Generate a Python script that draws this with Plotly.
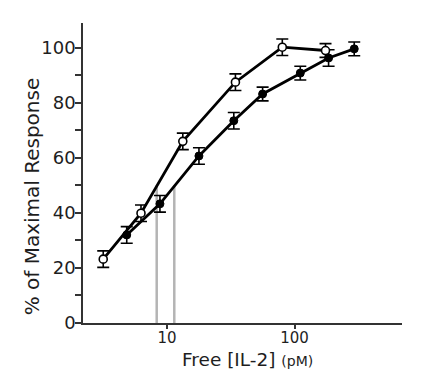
import plotly.graph_objects as go

# Open circles series
open_x = [3.16, 6.25, 13.3, 34.4, 80.2, 175]
open_y = [23.2, 39.9, 66.0, 87.5, 100.2, 99.0]
open_err = [3, 3, 3, 3, 3, 2.5]

# Filled circles series
filled_x = [4.83, 8.8, 17.8, 33.4, 56.2, 111, 185, 294]
filled_y = [32.0, 43.3, 60.7, 73.5, 83.2, 90.8, 96.3, 99.6]
filled_err = [3, 3, 3, 3, 2.5, 2.5, 3, 2.5]

# Half-maximal markers (gray vertical lines)
half_x = [8.3, 11.4]
half_y = 50

x_ticks = [10, 100]
y_ticks = [0, 20, 40, 60, 80, 100]

fig = go.Figure()

for hx in half_x:
    fig.add_trace(go.Scatter(
        x=[hx, hx], y=[0, half_y], mode="lines",
        line=dict(color="#b4b4b4", width=2.5), showlegend=False, hoverinfo="skip"))

fig.add_trace(go.Scatter(
    x=filled_x, y=filled_y, mode="lines+markers",
    line=dict(color="black", width=2.8),
    marker=dict(symbol="circle", size=8, color="black", line=dict(color="black", width=1)),
    error_y=dict(type="data", array=filled_err, color="black", thickness=1.6, width=6),
    showlegend=False))

fig.add_trace(go.Scatter(
    x=open_x, y=open_y, mode="lines+markers",
    line=dict(color="black", width=2.8),
    marker=dict(symbol="circle", size=8, color="white", line=dict(color="black", width=1.6)),
    error_y=dict(type="data", array=open_err, color="black", thickness=1.6, width=6),
    showlegend=False))

font_family = "DejaVu Sans, Arial, sans-serif"

fig.update_layout(
    width=416, height=371,
    margin=dict(l=75, r=22, t=15, b=56),
    paper_bgcolor="white", plot_bgcolor="white",
    font=dict(family=font_family, color="#1e1e1e", size=16),
    xaxis=dict(
        type="log", range=[0.341, 2.843], automargin=False,
        tickvals=x_ticks, ticktext=[str(v) for v in x_ticks],
        ticks="outside", ticklen=4, tickwidth=1.5, tickcolor="#333",
        ticklabelstandoff=-4,
        showline=True, linecolor="#333", linewidth=1.5,
        showgrid=False, zeroline=False,
        tickfont=dict(size=15, family=font_family),
    ),
    yaxis=dict(
        range=[0, 109], automargin=False,
        tickvals=y_ticks,
        ticks="outside", ticklen=6, tickwidth=1.5, tickcolor="#333",
        ticklabelstandoff=-4,
        minor=dict(dtick=10, ticks="outside", ticklen=6, tickwidth=1.5, tickcolor="#333", showgrid=False),
        showline=True, linecolor="#333", linewidth=1.5,
        showgrid=False, zeroline=False,
        tickfont=dict(size=18, family=font_family),
    ),
    annotations=[
        dict(text="% of Maximal Response", textangle=-90, xref="paper", yref="paper",
             x=-0.16, y=0.422, xanchor="center", yanchor="middle", showarrow=False,
             font=dict(size=20, family=font_family, color="#1e1e1e")),
        dict(text="Free [IL-2] <span style='font-size:14px'>(pM)</span>",
             xref="paper", yref="paper", x=0.517, y=-0.12,
             xanchor="center", yanchor="middle", showarrow=False,
             font=dict(size=18.5, family=font_family, color="#1e1e1e")),
    ],
)

fig.write_html("out.html")
